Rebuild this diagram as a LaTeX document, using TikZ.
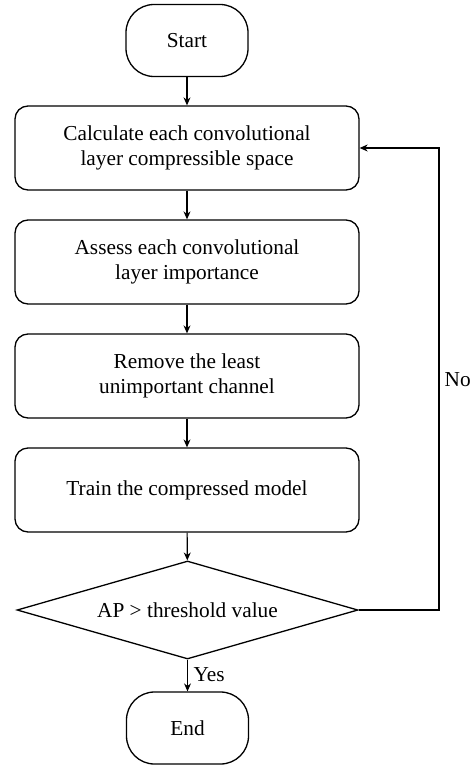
\documentclass[tikz,border=0pt]{standalone}
\usepackage{fontspec}
\setmainfont{Liberation Serif}
\usetikzlibrary{shapes.geometric,arrows.meta}
\begin{document}
\begin{tikzpicture}[x=1pt,y=-1pt,
  font=\fontsize{21.3}{25.5}\selectfont,
  line width=1.3pt,
  terminal/.style={draw, rounded corners=28pt, minimum width=122pt, minimum height=72pt, inner sep=0pt},
  process/.style={draw, rounded corners=13pt, minimum width=344pt, minimum height=84pt, align=center, inner sep=0pt},
  decision/.style={draw, diamond, aspect=3.48, minimum width=341pt, minimum height=98pt, inner sep=0pt},
  flow/.style={-{Stealth[length=8pt,width=7pt]}, line width=1.1pt}
]
\useasboundingbox (0,0) rectangle (475,765);

\node[terminal] (start) at (187,40.5) {Start};
\node[process] (calc) at (187,148) {Calculate each convolutional\\layer compressible space};
\node[process] (assess) at (187,262) {Assess each convolutional\\layer importance};
\node[process] (remove) at (187,376) {Remove the least\\unimportant channel};
\node[process] (train) at (187,490) {Train the compressed model};
\node[decision] (ap) at (187.5,610) {AP {>} threshold value};
\node[terminal] (end) at (187.5,728) {End};

\coordinate (loopB) at (439,610);
\coordinate (loopT) at (439,148);

\draw[flow] (start) -- (calc);
\draw[flow] (calc) -- (assess);
\draw[flow] (assess) -- (remove);
\draw[flow] (remove) -- (train);
\draw[flow] (train) -- (ap);
\draw[flow] (ap) -- (end);
\draw[flow] (ap.east) -- (loopB) -- (loopT) -- (calc.east);

\node[anchor=west, inner sep=0pt] (no) at (444,380) {No};
\node[anchor=west, inner sep=0pt] (yes) at (193,675) {Yes};
\end{tikzpicture}
\end{document}
